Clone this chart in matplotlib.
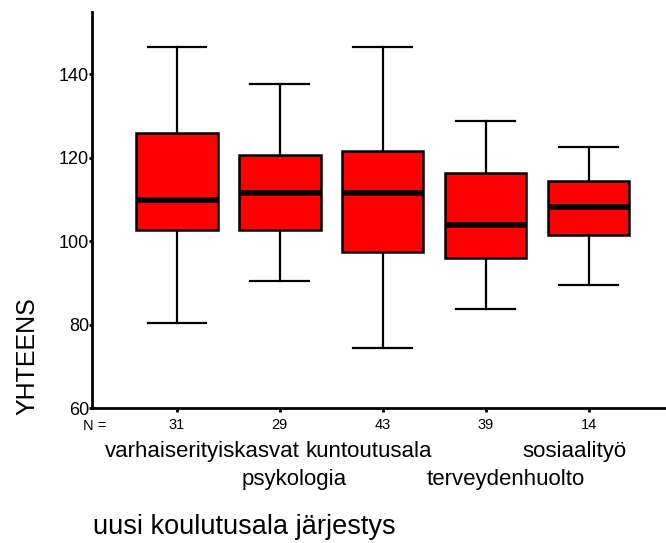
import matplotlib.pyplot as plt

plt.rcParams['font.family'] = ['Liberation Sans', 'DejaVu Sans']

# Data
categories = ['varhaiserityiskasvat', 'psykologia', 'kuntoutusala',
              'terveydenhuolto', 'sosiaalityö']
counts = [31, 29, 43, 39, 14]
whisker_low = [80.4, 90.5, 74.4, 83.7, 89.6]
q1 = [102.8, 102.8, 97.5, 96.0, 101.6]
medians = [109.8, 111.5, 111.6, 103.8, 108.2]
q3 = [126.0, 120.8, 121.7, 116.4, 114.5]
whisker_high = [146.6, 137.8, 146.6, 128.8, 122.5]

stats = []
for name, lo, a, m, b, hi in zip(categories, whisker_low, q1, medians, q3, whisker_high):
    stats.append({'label': name, 'whislo': lo, 'q1': a, 'med': m, 'q3': b,
                  'whishi': hi, 'fliers': []})

fig = plt.figure(figsize=(6.66, 5.43), dpi=100)
ax = fig.add_axes([0.138, 0.2486, 0.862, 0.7294])

positions = list(range(1, len(categories) + 1))
ax.bxp(stats, positions=positions, widths=0.79, capwidths=0.57,
       patch_artist=True, showfliers=False,
       boxprops=dict(facecolor='#ff0000', edgecolor='black', linewidth=1.8),
       medianprops=dict(color='black', linewidth=4),
       whiskerprops=dict(color='black', linewidth=1.6),
       capprops=dict(color='black', linewidth=1.6))

ax.set_xlim(0.175, 5.75)
ax.set_ylim(60, 155)
ax.set_yticks([60, 80, 100, 120, 140])
ax.tick_params(axis='y', length=2, width=2, pad=0, labelsize=13)
ax.set_xticks(positions)
ax.set_xticklabels([str(c) for c in counts])
ax.tick_params(axis='x', length=3, width=2, pad=4, labelsize=10.5)
for s in ['top', 'right']:
    ax.spines[s].set_visible(False)
ax.spines['left'].set_linewidth(2)
ax.spines['bottom'].set_linewidth(2)

ax.text(-0.016, -0.045, 'N =', transform=ax.transAxes, fontsize=10.5,
        ha='left', va='center')

# staggered category names
offsets = [0.25, 0.14, -0.14, 0.19, -0.14]
for i, name in enumerate(categories):
    y = -0.109 if i % 2 == 0 else -0.181
    ax.text(positions[i] + offsets[i], y, name,
            transform=ax.get_xaxis_transform(), fontsize=16,
            ha='center', va='center')

fig.text(0.042, 0.345, 'YHTEENS', rotation=90, fontsize=18,
         ha='center', va='center')
fig.text(0.14, 0.03, 'uusi koulutusala järjestys', fontsize=19.5,
         ha='left', va='center')

fig.savefig('out.png', dpi=100)
